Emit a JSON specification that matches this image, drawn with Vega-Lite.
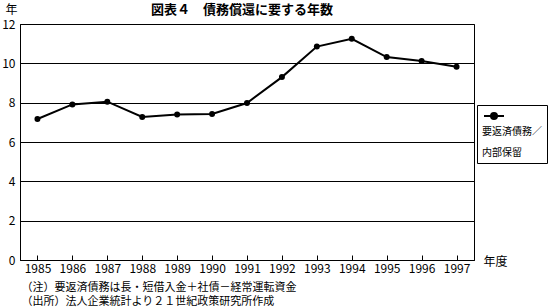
{
  "$schema": "https://vega.github.io/schema/vega-lite/v6.json",
  "autosize": "none",
  "width": 454,
  "height": 236,
  "padding": {"left": 20, "top": 24, "right": 74, "bottom": 47},
  "background": "white",
  "config": {
    "font": "Noto Sans CJK JP",
    "view": {"stroke": "black", "strokeWidth": 1},
    "axis": {"labelFont": "Noto Sans CJK JP", "titleFont": "Noto Sans CJK JP", "labelColor": "black", "titleColor": "black", "domainColor": "black", "tickColor": "black", "gridColor": "black", "gridOpacity": 1, "labelFontSize": 12, "titleFontWeight": "normal", "titleFontSize": 12},
    "legend": {"labelFont": "Noto Sans CJK JP", "titleFont": "Noto Sans CJK JP"}
  },
  "data": {
    "values": [
      {"year": "1985", "value": 7.17, "series": "要返済債務／内部保留"},
      {"year": "1986", "value": 7.91, "series": "要返済債務／内部保留"},
      {"year": "1987", "value": 8.05, "series": "要返済債務／内部保留"},
      {"year": "1988", "value": 7.27, "series": "要返済債務／内部保留"},
      {"year": "1989", "value": 7.4, "series": "要返済債務／内部保留"},
      {"year": "1990", "value": 7.42, "series": "要返済債務／内部保留"},
      {"year": "1991", "value": 7.98, "series": "要返済債務／内部保留"},
      {"year": "1992", "value": 9.3, "series": "要返済債務／内部保留"},
      {"year": "1993", "value": 10.85, "series": "要返済債務／内部保留"},
      {"year": "1994", "value": 11.25, "series": "要返済債務／内部保留"},
      {"year": "1995", "value": 10.32, "series": "要返済債務／内部保留"},
      {"year": "1996", "value": 10.12, "series": "要返済債務／内部保留"},
      {"year": "1997", "value": 9.83, "series": "要返済債務／内部保留"}
    ]
  },
  "layer": [
    {
      "mark": {"type": "line", "strokeWidth": 2, "point": {"filled": true, "size": 36, "color": "black"}},
      "encoding": {
        "x": {
          "field": "year",
          "type": "ordinal",
          "scale": {"paddingInner": 0, "paddingOuter": 0},
          "axis": {
            "labelAngle": 0,
            "bandPosition": 0,
            "tickSize": -5,
            "labelPadding": 8,
            "title": ["（注）要返済債務は長・短借入金＋社債－経常運転資金", "（出所）法人企業統計より２１世紀政策研究所作成"],
            "titleAlign": "left",
            "titleAnchor": "start",
            "titleBaseline": "top",
            "titleX": 1,
            "titleY": 21,
            "titleLineHeight": 14,
            "titleFontSize": 11
          }
        },
        "y": {
          "field": "value",
          "type": "quantitative",
          "scale": {"domain": [0, 12], "nice": false},
          "axis": {
            "tickCount": 6,
            "labelOverlap": false,
            "ticks": false,
            "labelPadding": 5,
            "title": "年",
            "titleAngle": 0,
            "titleX": -9,
            "titleY": -15,
            "titleAlign": "center",
            "titleBaseline": "middle"
          }
        },
        "color": {
          "field": "series",
          "type": "nominal",
          "scale": {"range": ["black"]},
          "legend": {
            "orient": "none",
            "legendX": 457,
            "legendY": 81,
            "title": ["要返済債務／", "内部保留"],
            "titleOrient": "bottom",
            "titleFontSize": 10,
            "titleFontWeight": "normal",
            "titleLineHeight": 21,
            "titleColor": "black",
            "titlePadding": 4,
            "labelExpr": "''",
            "symbolType": "M-2,0H2M-0.6,0A0.6,0.6,0,1,0,0.6,0A0.6,0.6,0,1,0,-0.6,0Z",
            "symbolSize": 100,
            "symbolOffset": 6,
            "symbolStrokeWidth": 2,
            "symbolFillColor": "black",
            "symbolStrokeColor": "black",
            "strokeColor": "black",
            "fillColor": "white",
            "padding": 5
          }
        }
      }
    },
    {
      "data": {"values": [{"label": "年度", "title": "図表４　債務償還に要する年数"}]},
      "layer": [
        {
          "mark": {"type": "text", "align": "left", "baseline": "middle", "dx": 27, "dy": 2, "fontSize": 12, "color": "black"},
          "encoding": {
            "x": {"datum": "1997", "type": "ordinal"},
            "y": {"datum": 0, "type": "quantitative"},
            "text": {"field": "label"}
          }
        },
        {
          "mark": {"type": "text", "align": "center", "baseline": "middle", "dx": -5, "dy": -14, "fontSize": 13, "fontWeight": "bold", "color": "black"},
          "encoding": {
            "x": {"datum": "1991", "type": "ordinal"},
            "y": {"datum": 12, "type": "quantitative"},
            "text": {"field": "title"}
          }
        }
      ]
    }
  ]
}
